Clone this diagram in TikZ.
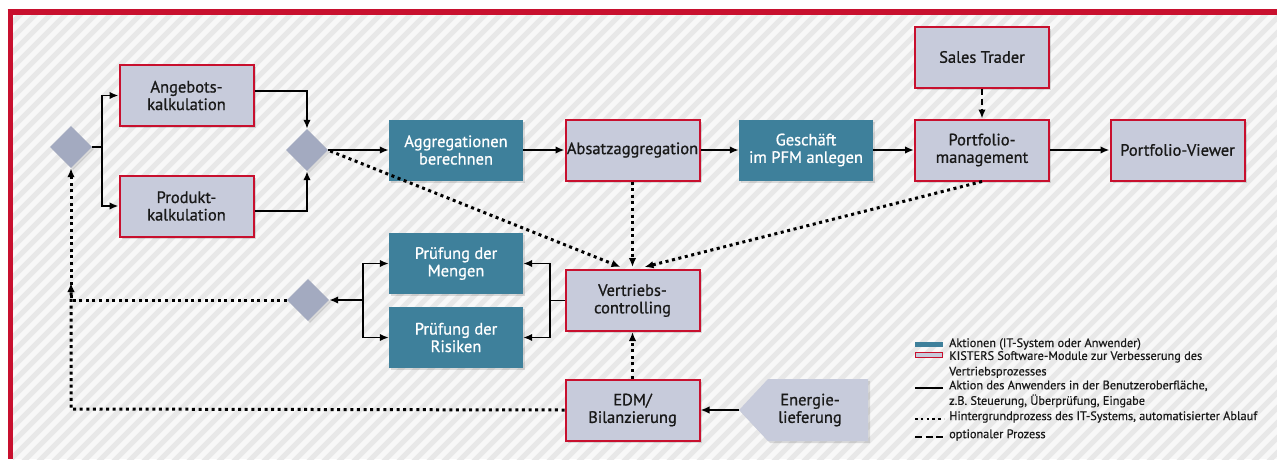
\documentclass[tikz,border=0pt]{standalone}
\usepackage{fontspec}
\setmainfont{PT Sans}
\newfontfamily\kfont{PT Sans}[FakeBold=0.9]
\newfontfamily\klfont{PT Sans}[FakeBold=0.6]
\usetikzlibrary{arrows.meta,shapes.geometric,shadows}
\definecolor{kteal}{RGB}{62,128,155}
\definecolor{klav}{RGB}{199,203,219}
\definecolor{kred}{RGB}{200,16,46}
\definecolor{kdia}{RGB}{163,170,192}
\definecolor{kbg}{RGB}{248,248,248}
\definecolor{kstripe}{RGB}{232,232,232}
\definecolor{ktext}{RGB}{25,25,25}
\newcommand\kboxfont{\kfont\fontsize{16.5}{17.5}\selectfont}
\newcommand\klegfont{\klfont\fontsize{12.3}{15.5}\selectfont}
\tikzset{
  kshadow/.style={drop shadow={shadow xshift=2pt,shadow yshift=-2pt,opacity=0.12,fill=black}},
  lavbox/.style={draw=kred,line width=2pt,fill=klav,minimum width=134pt,minimum height=61pt,
    align=center,font=\kboxfont,text=ktext,inner sep=0pt,kshadow},
  tealbox/.style={fill=kteal,minimum width=134pt,minimum height=61pt,
    align=center,font=\kboxfont,text=white,inner sep=0pt,kshadow},
  dia/.style={diamond,fill=kdia,minimum width=42pt,minimum height=42pt,inner sep=0pt,kshadow},
  arr/.style={line width=1.8pt,-{Latex[length=9pt,width=7.5pt]}},
  plain/.style={line width=1.8pt},
  dotline/.style={line width=3pt,dash pattern=on 3pt off 3.6pt},
  dotarr/.style={dotline,-{Latex[length=9pt,width=7.5pt]}},
  dasharr/.style={line width=1.8pt,dash pattern=on 6pt off 4pt,-{Latex[length=9pt,width=7.5pt]}},
  legtext/.style={anchor=west,align=left,font=\klegfont,text=ktext,inner sep=0pt},
  stripe/.style={kstripe,line width=5pt}
}
\begin{document}
\begin{tikzpicture}[x=1pt,y=-1pt]
\useasboundingbox (0,0) rectangle (1277,459);
\fill[white] (0,0) rectangle (1277,459);
% background with stripes
\begin{scope}
  \clip (13,15) rectangle (1277,459);
  \fill[kbg] (13,15) rectangle (1277,459);
  \foreach \k in {-465,-450,...,1290} {
    \draw[stripe] (\k,470) -- ++(480,-480);
  }
\end{scope}
% frame
\draw[kred,line width=6pt] (7.5,12) -- (1277,12);
\draw[kred,line width=5.5pt] (10.5,9) -- (10.5,459);

% nodes
\node[dia] (D1) at (71,147) {};
\node[lavbox] (A) at (186.5,95.5) {Angebots-\\kalkulation};
\node[lavbox] (P) at (186.5,206) {Produkt-\\kalkulation};
\node[dia] (D2) at (307,150) {};
\node[tealbox] (AB) at (456,150) {Aggregationen\\berechnen};
\node[lavbox] (AZ) at (632.5,150) {Absatzaggregation};
\node[tealbox] (GE) at (806,150) {Geschäft\\im PFM anlegen};
\node[lavbox] (PM) at (982,150) {Portfolio-\\management};
\node[lavbox] (ST) at (982,57) {Sales Trader};
\node[lavbox] (PV) at (1177.5,150) {Portfolio-Viewer};
\node[lavbox] (VC) at (632.5,300.5) {Vertriebs-\\controlling};
\node[tealbox] (M) at (456,263.5) {Prüfung der\\Mengen};
\node[tealbox] (R) at (456,337.5) {Prüfung der\\Risiken};
\node[dia] (D3) at (308,300) {};
\node[lavbox] (EDM) at (632.5,410) {EDM/\\Bilanzierung};
% Energielieferung (pentagon pointing left)
\coordinate (Etip) at (739,410);
\fill[klav,kshadow] (768,379) -- (868,379) -- (868,441) -- (768,441) -- (Etip) -- cycle;
\node[align=center,font=\kboxfont,text=ktext,inner sep=0pt] (E) at (810,410) {Energie-\\lieferung};

% connectors top
\draw[plain] (D1.east) -- (102,147) coordinate (J1);
\draw[arr] (J1) |- (A.west);
\draw[arr] (J1) |- (P.west);
\draw[arr] ([yshift=4.5pt]A.east) -| (D2.north);
\draw[arr] ([yshift=-5pt]P.east) -| (D2.south);
\draw[arr] (D2.east) -- (AB.west);
\draw[arr] (AB.east) -- (AZ.west);
\draw[arr] (AZ.east) -- (GE.west);
\draw[arr] (GE.east) -- (PM.west);
\draw[arr] (PM.east) -- (PV.west);
\draw[dasharr] (ST.south) -- (PM.north);

% dotted to Vertriebscontrolling
\draw[dotarr] ([xshift=2pt,yshift=-1pt]D2.east) -- ([xshift=-12pt,yshift=2pt]VC.north);
\draw[dotarr] (AZ.south) -- ([yshift=2pt]VC.north);
\draw[dotarr] (PM.south) -- ([xshift=12pt,yshift=2pt]VC.north);

% Pruefung branch
\draw[plain] (VC.west) -- (550,300.5) coordinate (J2);
\draw[arr] (J2) |- (M.east);
\draw[arr] (J2) |- (R.east);
\coordinate (J3) at (363,300);
\draw[arr] (J3) |- (M.west);
\draw[arr] (J3) |- (R.west);
\draw[arr] (J3) -- (D3.east);

% dotted return paths
\draw[dotarr] (D3.west) -- (71,300) -- (D1.south);
\draw[dotarr] (EDM.west) -- (71,409) -- (71,283);
\draw[dotarr] (EDM.north) -- (VC.south);
\draw[arr] (Etip) -- (EDM.east);

% legend
\fill[kteal] (915,341.5) rectangle (943,347);
\draw[kred,line width=1pt,fill=klav] (915.5,352) rectangle (942.5,357.5);
\draw[line width=1.6pt] (915,388) -- (943,388);
\draw[line width=2.6pt,dash pattern=on 2.6pt off 3.2pt] (915,419) -- (944,419);
\draw[line width=1.6pt,dash pattern=on 7pt off 3.5pt] (915,437) -- (944,437);
\node[legtext] (L1) at (949,344) {Aktionen (IT-System oder Anwender)};
\node[legtext] (L2) at (949,364.5) {KISTERS Software-Module zur Verbesserung des\\Vertriebsprozesses};
\node[legtext] (L3) at (949,394) {Aktion des Anwenders in der Benutzeroberfläche,\\z.B. Steuerung, Überprüfung, Eingabe};
\node[legtext] (L4) at (949,417) {Hintergrundprozess des IT-Systems, automatisierter Ablauf};
\node[legtext] (L5) at (949,435) {optionaler Prozess};
\end{tikzpicture}
\end{document}
